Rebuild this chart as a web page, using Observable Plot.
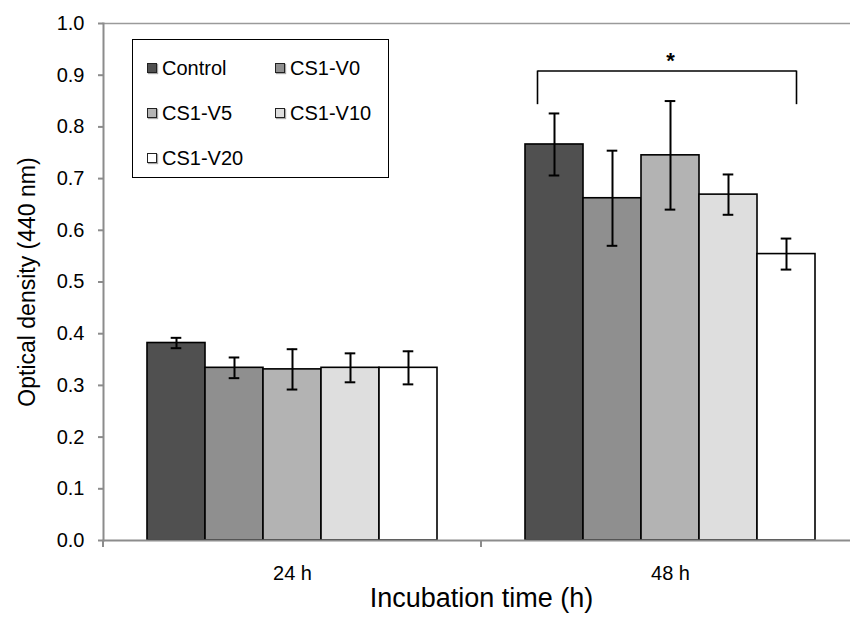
<!DOCTYPE html>
<html><head><meta charset="utf-8">
<script src="https://cdn.jsdelivr.net/npm/d3@7"></script>
<script src="https://cdn.jsdelivr.net/npm/@observablehq/plot@0.6"></script>
<style>
body{margin:0;background:#fff;}
#wrap{position:relative;width:850px;height:621px;overflow:hidden;font-family:"Liberation Sans",Arial,sans-serif;}
#legend{position:absolute;left:132px;top:39px;width:257px;height:139px;border:1.5px solid #000;background:#fff;box-sizing:border-box;}
.item{position:absolute;display:flex;align-items:center;font-size:20px;color:#000;line-height:1;}
.sw{width:8px;height:8px;border:1px solid #222;margin-right:5px;box-shadow:1px 1px 1px rgba(0,0,0,0.35);}
</style></head><body><div id="wrap"></div>
<script>
const times = ["24 h", "48 h"];
const samples = ["Control", "CS1-V0", "CS1-V5", "CS1-V10", "CS1-V20"];
const mean24 = [0.382, 0.334, 0.331, 0.334, 0.334];
const sd24 = [0.010, 0.020, 0.039, 0.028, 0.032];
const mean48 = [0.766, 0.662, 0.745, 0.669, 0.554];
const sd48 = [0.060, 0.092, 0.105, 0.039, 0.030];
const yTicks = [0, 0.1, 0.2, 0.3, 0.4, 0.5, 0.6, 0.7, 0.8, 0.9, 1.0];
const sig = [{time: "48 h", from: "Control", to: "CS1-V20", star: "CS1-V5", top: 0.908, bottom: 0.843, label: "*", labelY: 0.935}];

const means = [mean24, mean48], sds = [sd24, sd48];
const rows = times.flatMap((t, ti) => samples.map((s, si) => ({time: t, sample: s, mean: means[ti][si], sd: sds[ti][si]})));

const axisGrey = "#8c8c8c";
const chart = Plot.plot({
  width: 850, height: 621,
  marginTop: 23, marginBottom: 81, marginLeft: 102, marginRight: -9,
  style: {fontFamily: "Liberation Sans, Arial, sans-serif", background: "white", color: "black"},
  fx: {domain: times, paddingInner: 0, paddingOuter: 0},
  x: {domain: samples, padding: 0, axis: null, insetLeft: 43.3, insetRight: 43.3},
  y: {domain: [0, 1]},
  color: {domain: samples, range: ["#505050", "#8f8f8f", "#b3b3b3", "#dedede", "#ffffff"]},
  marks: [
    Plot.frame({anchor: "top", facet: "super", stroke: "#9a9a9a", strokeWidth: 1.5}),
    Plot.barY(rows, {fx: "time", x: "sample", y: "mean", fill: "sample", stroke: "black", strokeWidth: 1.6}),
    Plot.ruleX(rows, {fx: "time", x: "sample", y1: d => d.mean - d.sd, y2: d => d.mean + d.sd, stroke: "black", strokeWidth: 2}),
    Plot.tickY(rows, {fx: "time", x: "sample", y: d => d.mean - d.sd, inset: 23.7, stroke: "black", strokeWidth: 2}),
    Plot.tickY(rows, {fx: "time", x: "sample", y: d => d.mean + d.sd, inset: 23.7, stroke: "black", strokeWidth: 2}),
    Plot.ruleY(sig, {fx: "time", x1: "from", x2: "to", y: "top", insetLeft: 12.5, insetRight: 18.5, stroke: "black", strokeWidth: 1.6}),
    Plot.ruleX(sig, {fx: "time", x: "from", y1: "bottom", y2: "top", dx: -17, stroke: "black", strokeWidth: 1.6}),
    Plot.ruleX(sig, {fx: "time", x: "to", y1: "bottom", y2: "top", dx: 10, stroke: "black", strokeWidth: 1.6}),
    Plot.text(sig, {fx: "time", x: "star", y: "labelY", text: "label", fontSize: 22, fontWeight: "bold", dy: 4}),
    Plot.frame({anchor: "bottom", facet: "super", stroke: axisGrey, strokeWidth: 2}),
    Plot.frame({anchor: "left", facet: "super", stroke: axisGrey, strokeWidth: 2}),
    Plot.axisY({ticks: yTicks, tickFormat: d => d.toFixed(1), tickSize: 5, tickPadding: 14, fontSize: 20, stroke: axisGrey, strokeWidth: 2, fill: "black", label: null}),
    Plot.axisFx({anchor: "bottom", tickSize: 0, tickPadding: 25, fontSize: 20, fill: "black", label: null}),
    Plot.text(["Incubation time (h)"], {facet: "super", frameAnchor: "bottom", dy: 66, fontSize: 27, fill: "black"}),
    Plot.text(["Optical density (440 nm)"], {facet: "super", frameAnchor: "left", textAnchor: "middle", dx: -76, rotate: -90, fontSize: 23, fill: "black"})
  ]
});

const wrap = document.getElementById("wrap");
wrap.appendChild(chart);

// category-boundary ticks on the x axis (Excel style), placed through the fx and y scales
const fx = chart.scale("fx"), ys = chart.scale("y");
const svg = d3.select(chart.tagName.toLowerCase() === "svg" ? chart : chart.querySelector("svg"));
const bounds = times.map(t => fx.apply(t)).concat([fx.apply(times[times.length - 1]) + fx.bandwidth]);
const y0 = ys.apply(0);
svg.append("g").selectAll("line").data(bounds).join("line")
  .attr("x1", d => d).attr("x2", d => d).attr("y1", y0).attr("y2", y0 + 7)
  .attr("stroke", axisGrey).attr("stroke-width", 2);

// legend inside the plot area
const color = chart.scale("color");
const legend = document.createElement("div");
legend.id = "legend";
samples.forEach((s, i) => {
  const item = document.createElement("div");
  item.className = "item";
  item.style.left = (i % 2 === 0 ? 14 : 142) + "px";
  item.style.top = (18 + Math.floor(i / 2) * 45) + "px";
  const sw = document.createElement("span");
  sw.className = "sw";
  sw.style.background = color.apply(s);
  const tx = document.createElement("span");
  tx.textContent = s;
  item.appendChild(sw); item.appendChild(tx);
  legend.appendChild(item);
});
wrap.appendChild(legend);
</script>
</body></html>
